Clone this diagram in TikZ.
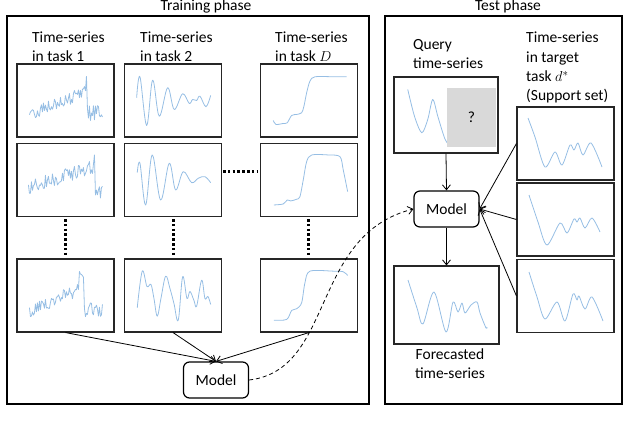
\documentclass[tikz,border=0pt]{standalone}
\usepackage{fontspec}
\setmainfont{Carlito}
\usetikzlibrary{arrows.meta}
\definecolor{tsblue}{RGB}{150,190,228}
\definecolor{qgray}{RGB}{217,217,217}
\begin{document}
\begin{tikzpicture}[x=1pt,y=-1pt,
  frame/.style={draw=black,line width=1.8pt,inner sep=0pt},
  tsbox/.style={draw=black!85,line width=1.1pt,minimum width=97pt,minimum height=73pt,inner sep=0pt},
  modelbox/.style={draw=black,line width=1.2pt,rounded corners=6pt,minimum width=65pt,minimum height=36pt,inner sep=0pt,font=\fontsize{15.5}{19}\selectfont},
  lbl/.style={anchor=base west,inner sep=0pt,font=\fontsize{15.5}{19}\selectfont},
  ts/.style={draw=tsblue,line width=0.8pt,line join=round},
  arr/.style={-{Straight Barb[length=5pt,width=8pt]},line width=0.8pt},
  dotline/.style={line width=3pt,dash pattern=on 2.6pt off 2.2pt}
]
\useasboundingbox (0,0) rectangle (640,425);

% frames
\node[frame,minimum width=362pt,minimum height=388pt] (train) at (188,210) {};
\node[frame,minimum width=237pt,minimum height=388pt] (test) at (503.5,210) {};
\node[lbl,anchor=base] (ttrain) at (206,11) {Training phase};
\node[lbl,anchor=base] (ttest) at (508,11) {Test phase};

% column labels
\node[lbl] (l1a) at (32,43) {Time-series};
\node[lbl] (l1b) at (32,62) {in task 1};
\node[lbl] (l2a) at (140,43) {Time-series};
\node[lbl] (l2b) at (140,62) {in task 2};
\node[lbl] (l3a) at (275,43) {Time-series};
\node[lbl] (l3b) at (275,62) {in task $D$};

% training boxes
\node[tsbox] (b11) at (65.5,100.5) {};
\node[tsbox] (b12) at (173,100.5) {};
\node[tsbox] (b13) at (309,100.5) {};
\node[tsbox] (b21) at (65.5,180) {};
\node[tsbox] (b22) at (173,180) {};
\node[tsbox] (b23) at (309,180) {};
\node[tsbox] (b31) at (65.5,295.5) {};
\node[tsbox] (b32) at (173,295.5) {};
\node[tsbox] (b33) at (309,295.5) {};

% column 1 (noisy)
\pgfmathsetseed{11}
\begin{scope}[shift={(b11.north west)}]
\draw[ts] plot[domain=13:69,samples=57] (\x,{51-0.39*(\x-13)+7*rand}) -- (70,13) -- (71,45)
  -- plot[domain=72:86,samples=15] (\x,{50+8*rand});
\end{scope}
\begin{scope}[shift={(b21.north west)}]
\draw[ts] plot[domain=12:76,samples=65] (\x,{45-0.33*(\x-12)+7*rand}) -- (78,12) -- (79,52)
  -- plot[domain=80:86,samples=7] (\x,{50+7*rand});
\end{scope}
\begin{scope}[shift={(b31.north west)}]
\draw[ts] plot[domain=13:62,samples=50] (\x,{53-0.45*(\x-13)+7*rand}) -- (63,13)
  -- plot[domain=64:67,samples=4] (\x,{22+8*rand}) -- (68,50)
  -- plot[domain=69:86,samples=18] (\x,{52+8*rand});
\end{scope}

% column 2 (oscillating)
\begin{scope}[shift={(b12.north west)}]
\draw[ts] plot[smooth,tension=0.6] coordinates {(12.7,34.3) (16,13.3) (22.7,62) (28.7,16.7) (35.3,52.7) (43.7,24.3) (50.3,46) (58.7,30.3) (65.3,40) (68.7,36) (72.7,37) (76,32.7) (82,43.3) (86.7,32)};
\end{scope}
\begin{scope}[shift={(b22.north west)}]
\draw[ts] plot[smooth,tension=0.6] coordinates {(13.3,29.7) (16,20.3) (21.7,62) (28.3,12) (36.7,57) (45.3,20.3) (51.7,47) (59.3,28.7) (67.7,39.7) (74.3,35.3) (81,33.7) (86.7,39.7)};
\end{scope}
\begin{scope}[shift={(b32.north west)}]
\draw[ts] plot[smooth,tension=0.6] coordinates {(13.3,49.3) (18.3,12.7) (23,28) (27,26) (30,40) (33.3,57.7) (37,40) (41.7,17.7) (46,30) (50,45) (54.3,61.7) (58.7,18.3) (63,40) (66,33) (70,42) (72.7,47.7) (77.7,21.7) (81,40) (84,38) (86.7,46)};
\end{scope}

% column 3 (step)
\begin{scope}[shift={(b13.north west)}]
\draw[ts] plot[smooth,tension=0.5] coordinates {(13.3,57) (16,61) (23.3,60) (27.3,59.3) (31.7,52) (36.7,51) (41.7,49.3) (44,42.7) (46.7,29.3) (50,17.7) (55,13.3) (73.3,13.3) (86.7,13.3)};
\end{scope}
\begin{scope}[shift={(b23.north west)}]
\draw[ts] plot[smooth,tension=0.5] coordinates {(14,62) (23.3,61) (27.3,57) (30.7,58) (36.7,56.3) (40,53.7) (43.3,37) (46.7,18.7) (51.7,12) (68.3,12) (80,13.7) (83.3,27) (87.7,48.7)};
\end{scope}
\begin{scope}[shift={(b33.north west)}]
\draw[ts] plot[smooth,tension=0.5] coordinates {(14,61.7) (26.7,61) (31.7,52) (36.7,50.3) (41.7,44.3) (45,24.3) (50,12.7) (73.3,12.7) (83.3,13.3) (87.7,17)};
\end{scope}

% dotted continuation lines
\coordinate (h1) at (223,172);
\coordinate (h2) at (258,172);
\coordinate (v1a) at (65.5,219);
\coordinate (v1b) at (65.5,256);
\coordinate (v2a) at (173,219);
\coordinate (v2b) at (173,256);
\coordinate (v3a) at (308.5,219);
\coordinate (v3b) at (308.5,256);
\draw[dotline] (h1) -- (h2);
\draw[dotline] (v1a) -- (v1b);
\draw[dotline] (v2a) -- (v2b);
\draw[dotline] (v3a) -- (v3b);

% training model
\node[modelbox] (mtrain) at (216,380) {Model};
\draw[arr] (b31.south) -- (mtrain.north);
\draw[arr] (b32.south) -- (mtrain.north);
\draw[arr] (b33.south) -- (mtrain.north);

% test phase labels
\node[lbl] (qa) at (413,50) {Query};
\node[lbl] (qb) at (413,69) {time-series};
\node[lbl] (sa) at (526,43) {Time-series};
\node[lbl] (sb) at (526,62.5) {in target};
\node[lbl] (sc) at (526,82) {task $d^{*}$};
\node[lbl] (sd) at (526,101) {(Support set)};

% query box
\node[tsbox,minimum width=104pt,minimum height=76pt] (query) at (446,115) {};
\begin{scope}[shift={(query.north west)}]
\draw[ts] plot[smooth,tension=0.5] coordinates {(14.3,13) (21,39.7) (28.3,56.3) (34.3,43) (39.3,23) (44.3,39.7) (51,61.3) (55,68)};
\end{scope}
\node[fill=qgray,minimum width=49pt,minimum height=59pt,inner sep=0pt,font=\fontsize{15.5}{19}\selectfont] (qmark) at (471.5,117.5) {?};

% test model
\node[modelbox] (mtest) at (446.5,209) {Model};
\draw[arr] (query.south) -- (mtest.north);

% forecast
\node[tsbox,minimum width=105pt,minimum height=78pt] (fore) at (446.5,305) {};
\draw[ts] plot[smooth,tension=0.5] coordinates {(408,280) (417,308) (423,324) (434,292) (446,332) (453,302) (458,312) (462,303) (465,313) (471,305) (477,302) (480,313) (486,328) (487,327)};
\draw[arr] (mtest.south) -- (fore.north);
\node[lbl,anchor=base] (fa) at (450,359) {Forecasted};
\node[lbl,anchor=base] (fb) at (450,378) {time-series};

% support set
\node[tsbox] (s1) at (565.5,143.5) {};
\node[tsbox] (s2) at (565.5,219.5) {};
\node[tsbox] (s3) at (565.5,296) {};
\draw[ts] plot[smooth,tension=0.5] coordinates {(528,118) (535,137) (545,167) (555,152) (562,165) (570,145) (574,150) (578,143) (583,155) (591,143) (602,167)};
\draw[ts] plot[smooth,tension=0.5] coordinates {(529,195) (538,222) (547,245) (560,223) (567,233) (574,219) (577,222) (580,218) (585,228) (592,218) (600,232)};
\draw[ts] plot[smooth,tension=0.5] coordinates {(529,272) (537,297) (545,319) (557,302) (565,321) (573,294) (577,300) (579,296) (585,309) (592,297) (603,321)};
\draw[arr] (s1.west) -- (mtest.east);
\draw[arr] (s2.west) -- (mtest.east);
\draw[arr] (s3.west) -- (mtest.east);

% transfer of the trained model
\draw[arr,dash pattern=on 4pt off 3pt] (mtrain.east) .. controls (335,370) and (310,235) .. (mtest.west);
\end{tikzpicture}
\end{document}
